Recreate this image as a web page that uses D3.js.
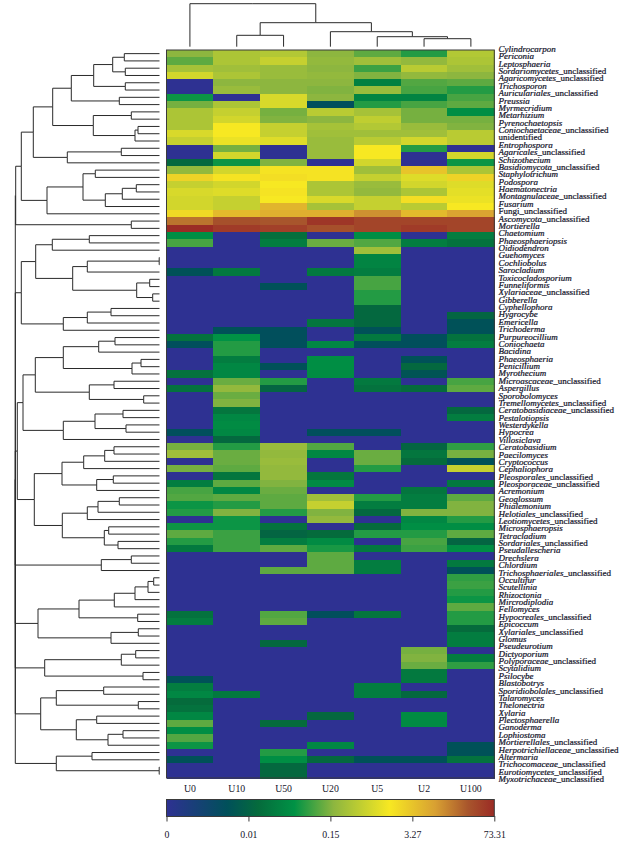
<!DOCTYPE html>
<html>
<head>
<meta charset="utf-8">
<script src="https://cdn.jsdelivr.net/npm/d3@7"></script>
<style>
html,body{margin:0;padding:0;background:#fff}
svg{display:block}
text{font-family:"Liberation Serif","Times New Roman",serif;fill:#14142a}
.taxon{stroke:#14142a;stroke-width:0.22px}
</style>
</head>
<body>
<svg id="chart" width="632" height="842"></svg>
<script>
const columns = ["U0","U10","U50","U20","U5","U2","U100"];

const taxa = [
"Cylindrocarpon","Periconia","Leptosphaeria","Sordariomycetes_unclassified","Agaricomycetes_unclassified",
"Trichosporon","Auriculariales_unclassified","Preussia","Myrmecridium","Metarhizium",
"Pyrenochaetopsis","Coniochaetaceae_unclassified","unidentified","Entrophospora","Agaricales_unclassified",
"Schizothecium","Basidiomycota_unclassified","Staphylotrichum","Podospora","Haematonectria",
"Montagnulaceae_unclassified","Fusarium","Fungi_unclassified","Ascomycota_unclassified","Mortierella",
"Chaetomium","Phaeosphaeriopsis","Oidiodendron","Guehomyces","Cochliobolus",
"Sarocladium","Toxicocladosporium","Funneliformis","Xylariaceae_unclassified","Gibberella",
"Cyphellophora","Hygrocybe","Emericella","Trichoderma","Purpureocillium",
"Coniochaeta","Bacidina","Phaeosphaeria","Penicillium","Myrothecium",
"Microascaceae_unclassified","Aspergillus","Sporobolomyces","Tremellomycetes_unclassified","Ceratobasidiaceae_unclassified",
"Pestalotiopsis","Westerdykella","Hypocrea","Villosiclava","Ceratobasidium",
"Paecilomyces","Cryptococcus","Cephaliophora","Pleosporales_unclassified","Pleosporaceae_unclassified",
"Acremonium","Geoglossum","Phialemonium","Helotiales_unclassified","Leotiomycetes_unclassified",
"Microsphaeropsis","Tetracladium","Sordariales_unclassified","Pseudallescheria","Drechslera",
"Chlordium","Trichosphaeriales_unclassified","Occultifur","Scutellinia","Rhizoctonia",
"Mircrodiplodia","Fellomyces","Hypocreales_unclassified","Epicoccum","Xylariales_unclassified",
"Glomus","Pseudeurotium","Dictyoporium","Polyporaceae_unclassified","Scytalidium",
"Psilocybe","Blastobotrys","Sporidiobolales_unclassified","Talaromyces","Thelonectria",
"Xylaria","Plectosphaerella","Ganoderma","Lophiostoma","Mortierellales_unclassified",
"Herpotrichiellaceae_unclassified","Altermaria","Trichocomaceae_unclassified","Eurotiomycetes_unclassified","Myxotrichaceae_unclassified"
];
const romanTaxa = ["unidentified","Fungi_unclassified"];

// Cell values, read as position along the colour bar (0 = left end, 100 = right end)
const U0 = [51,47,55,62,0,0,40,49,56,56, 56,63,60,0,0,27,52,72,60,63, 62,62,71,88,100,38,45,0,0,0,
 19,0,0,0,0,0,0,0,0,30, 18,0,0,0,30,0,30,0,0,0, 0,0,18,0,49,54,0,49,0,33, 45,46,40,42,0,40,47,42,32,0,
 0,0,0,0,0,0,0,30,33,0, 0,0,0,0,0,0,19,33,36,28, 30,36,47,38,46,40,0,19,0,0];
const U10 = [56,56,54,56,51,53,0,56,60,62, 68,68,66,49,62,40,62,69,62,64, 60,60,77,93,97,0,0,0,0,0,
 32,0,0,0,0,0,0,0,19,39, 42,42,33,36,36,48,52,48,50,31, 36,37,36,27,42,48,48,47,31,47, 36,47,42,50,40,40,44,44,44,0,
 0,0,0,0,0,0,0,0,0,0, 0,0,0,0,0,0,0,0,32,0, 0,0,0,0,0,0,0,0,0,0];
const U50 = [57,60,53,53,51,51,63,63,49,50, 60,60,64,0,0,50,69,70,68,69, 68,78,79,92,96,29,33,0,0,0,
 0,0,19,0,0,0,0,0,18,18, 18,0,0,19,0,42,26,0,0,0, 0,0,0,0,53,52,53,52,52,50, 48,47,47,42,0,30,26,33,47,0,
 0,47,0,0,0,0,0,46,47,0, 0,27,0,0,0,0,0,0,0,0, 0,0,28,0,0,0,42,38,27,27];
const U20 = [51,52,51,52,51,50,51,18,58,51, 55,54,53,53,53,0,69,69,56,56, 63,55,79,98,93,0,48,0,0,0,
 32,0,0,0,0,0,0,31,0,0, 36,0,38,38,37,0,0,0,0,0, 0,0,18,0,46,36,0,0,31,37, 0,54,60,50,52,0,28,37,41,47,
 47,47,0,0,0,0,0,18,0,0, 0,0,0,0,0,0,0,0,0,0, 0,27,0,0,0,36,0,27,0,0];
const U5 = [47,54,44,50,34,53,35,42,55,59, 57,54,58,68,68,62,54,60,53,52, 60,60,84,95,95,38,46,54,35,35,
 33,45,45,42,42,27,27,27,19,32, 18,0,0,0,0,32,30,0,0,0, 0,0,18,0,0,48,48,42,0,0, 0,42,33,27,0,28,42,0,32,0,
 33,33,0,0,0,0,0,31,0,0, 0,0,0,0,0,0,0,33,33,0, 0,0,0,0,0,0,0,19,0,0];
const U2 = [42,52,58,52,46,45,35,45,49,49, 53,54,62,42,0,0,75,64,62,56, 70,58,77,95,97,0,33,0,0,0,
 0,0,0,0,0,0,0,0,0,18, 18,0,19,27,20,0,28,0,0,0, 0,0,0,0,26,31,28,0,0,0, 31,33,33,50,36,38,42,45,44,0,
 0,0,0,0,0,0,0,0,0,0, 0,0,49,50,48,32,32,0,27,0, 0,37,37,0,0,0,0,19,0,0];
const U100 = [57,56,54,51,47,42,45,47,38,49, 50,58,58,0,62,40,56,72,64,65, 66,68,81,95,95,33,30,0,0,0,
 0,0,0,0,0,0,26,19,19,30, 33,0,0,0,0,45,47,0,0,27, 33,0,0,0,43,49,19,60,0,32, 0,47,50,50,42,38,47,26,38,0,
 32,19,43,44,42,40,47,42,42,28, 33,33,0,33,43,0,0,0,0,0, 0,0,0,0,0,19,19,30,0,0];
const columnValues = [U0,U10,U50,U20,U5,U2,U100];

// Colour bar
const legendTickPositions = [0,25,50,75,100];
const legendTickLabels = ["0","0.01","0.15","3.27","73.31"];
const colorPositions = [0,18.5,28,39,51,68,82,92,100];
const colorValues = ["#2e3192","#00505a","#056b3c","#009245","#8db63f","#f7e822","#d8a032","#a8552c","#9b2b25"];

// Dendrograms: [merge height, child, child, ...]; a plain number is a row/column index
const leftTree = [144.2,
  [143.8,
    [138.2,
      [126.2,
        [106.8,
          [88.2,
            [65.8,[46.8,[35.2,0,1],[34.2,2,3]],[34.2,4,5]],
            [40.2,6,7]],
          [66.2,[28.2,8,9],[24.5,[21.5,10,11],12]]],
        [92.2,[38.2,13,14],15]],
      [112.5,
        [76.5,[64.2,16,17],[54.2,[37.2,[23.2,18,19],20],21]],
        22]],
    [28.2,23,24]],
  [138.2,
    [123.8,
      [107.2,[70.2,25,26],27],
      [86.8,[72.2,[0.3,28,29],30],[22.8,[9.8,31,32],[6.8,33,34]]]],
    [96.2,[72.2,[48.5,35,36],37],38]],
  [142.2,
    [136.5,
      [124.2,
        [96.2,[60.8,[44.5,39,40],41],[27.5,[18.5,42,43],44]],
        [70.2,[45.5,45,46],[15.8,47,48]]],
      [96.2,[64.5,[36.5,49,50],[33.5,51,52]],53]],
    [125.2,
      [97.5,
        [75.8,[54.8,[45.5,54,55],56],57],
        [62.8,[46.2,58,59],60]],
      [97.2,
        [72.2,[61.5,[40.2,61,62],63],64],
        [55.2,[50.8,65,66],[41.5,67,68]]]]],
  [58.2,[28.2,69,70],71],
  [121.5,
    [80.5,
      [45.2,[24.5,[11.5,[5.8,72,73],74],75],76],
      [21.8,77,78]],
    [48.5,[21.2,79,80],81]],
  [114.8,[38.2,[23.8,82,83],84],[16.5,85,86]],
  [118.8,
    [103.2,[55.8,87,88],[21.2,89,90]],
    [83.2,[62.8,91,92],[51.5,[36.5,93,94],95]]],
  [103.2,[67.5,96,97],[0.3,98,99]]
];
const topTree = [43,0,[24,[11.4,1,2],[15,3,[10,4,[8,5,6]]]]];

// ---------- layout ----------
const heat = {left:166.5,right:494.3,top:50,bottom:778};
const svg = d3.select("#chart");

const xBand = d3.scaleBand().domain(columns).range([heat.left,heat.right]);
const yBand = d3.scaleBand().domain(taxa).range([heat.top,heat.bottom]);
const color = d3.scaleLinear().domain(colorPositions).range(colorValues).interpolate(d3.interpolateRgb);

// cells
const cells = columns.flatMap((c,ci)=>taxa.map((t,ri)=>({c,t,v:columnValues[ci][ri]})));
svg.append("g").selectAll("rect").data(cells).join("rect")
  .attr("x",d=>xBand(d.c)).attr("y",d=>yBand(d.t))
  .attr("width",xBand.bandwidth()+0.5).attr("height",yBand.bandwidth()+0.5)
  .attr("fill",d=>color(d.v)).attr("shape-rendering","crispEdges");

// frame
svg.append("rect").attr("x",heat.left).attr("y",heat.top)
  .attr("width",heat.right-heat.left).attr("height",heat.bottom-heat.top)
  .attr("fill","none").attr("stroke","#3a3a3a").attr("stroke-width",1);

// dendrograms
function layoutTree(tree,leafPos){
  const root = d3.hierarchy(tree,d=>Array.isArray(d)?d.slice(1):null);
  root.eachAfter(n=>{
    if(n.children){
      n.h = n.data[0];
      n.pos = (n.children[0].pos+n.children[n.children.length-1].pos)/2;
    } else { n.h = 0; n.pos = leafPos(n.data); }
  });
  return root;
}
const leftH = d3.scaleLinear().domain([0,144.2]).range([159.5,15.3]);
const leftRoot = layoutTree(leftTree,i=>yBand(taxa[i])+yBand.bandwidth()/2);
svg.append("g").attr("fill","none").attr("stroke","#2a2a2a").attr("stroke-width",1)
  .selectAll("path").data(leftRoot.descendants().filter(n=>n.parent)).join("path")
  .attr("d",n=>{const p=d3.path();p.moveTo(leftH(n.h),n.pos);p.lineTo(leftH(n.parent.h),n.pos);p.lineTo(leftH(n.parent.h),n.parent.pos);return p.toString();});

const topH = d3.scaleLinear().domain([0,43]).range([46.7,3.7]);
const topRoot = layoutTree(topTree,i=>xBand(columns[i])+xBand.bandwidth()/2);
svg.append("g").attr("fill","none").attr("stroke","#2a2a2a").attr("stroke-width",1)
  .selectAll("path").data(topRoot.descendants().filter(n=>n.parent)).join("path")
  .attr("d",n=>{const p=d3.path();p.moveTo(n.pos,topH(n.h));p.lineTo(n.pos,topH(n.parent.h));p.lineTo(n.parent.pos,topH(n.parent.h));return p.toString();});

// taxon labels
const labelY = d3.scalePoint().domain(taxa).range([52,782]);
const labels = svg.append("g").attr("font-size",9).selectAll("text").data(taxa).join("text")
  .attr("class","taxon").attr("x",498.5).attr("y",d=>labelY(d));
labels.each(function(d){
  const t = d3.select(this);
  if(romanTaxa.includes(d)){ t.text(d); return; }
  const k = d.indexOf("_");
  t.append("tspan").attr("font-style","italic").text(k<0?d:d.slice(0,k));
  if(k>=0) t.append("tspan").text(d.slice(k));
});

// column labels
const colAxis = svg.append("g").attr("transform",`translate(0,${heat.bottom})`)
  .call(d3.axisBottom(xBand).tickSize(0));
colAxis.select(".domain").remove();
colAxis.selectAll("text").attr("y",13.5).attr("dy",0).attr("font-size",9.8)
  .attr("font-family",'"Liberation Serif",serif').attr("fill","#14142a");

// colour bar
const legendX = d3.scaleLinear().domain([0,100]).range([heat.left,heat.right]);
const grad = svg.append("defs").append("linearGradient").attr("id","cbar");
grad.selectAll("stop").data(colorPositions).join("stop")
  .attr("offset",d=>d+"%").attr("stop-color",(d,i)=>colorValues[i]);
svg.append("rect").attr("x",heat.left).attr("y",799.5)
  .attr("width",heat.right-heat.left).attr("height",17)
  .attr("fill","url(#cbar)").attr("stroke","#3a3a3a").attr("stroke-width",1);
const legendAxis = svg.append("g").attr("transform","translate(0,816)")
  .call(d3.axisBottom(legendX).tickValues(legendTickPositions)
    .tickFormat((d,i)=>legendTickLabels[i]).tickSize(5.5).tickSizeOuter(0));
legendAxis.select(".domain").remove();
legendAxis.selectAll("line").attr("stroke","#3a3a3a");
legendAxis.selectAll("text").attr("y",22.3).attr("dy",0).attr("font-size",9.8)
  .attr("font-family",'"Liberation Serif",serif').attr("fill","#14142a");
</script>
</body>
</html>
